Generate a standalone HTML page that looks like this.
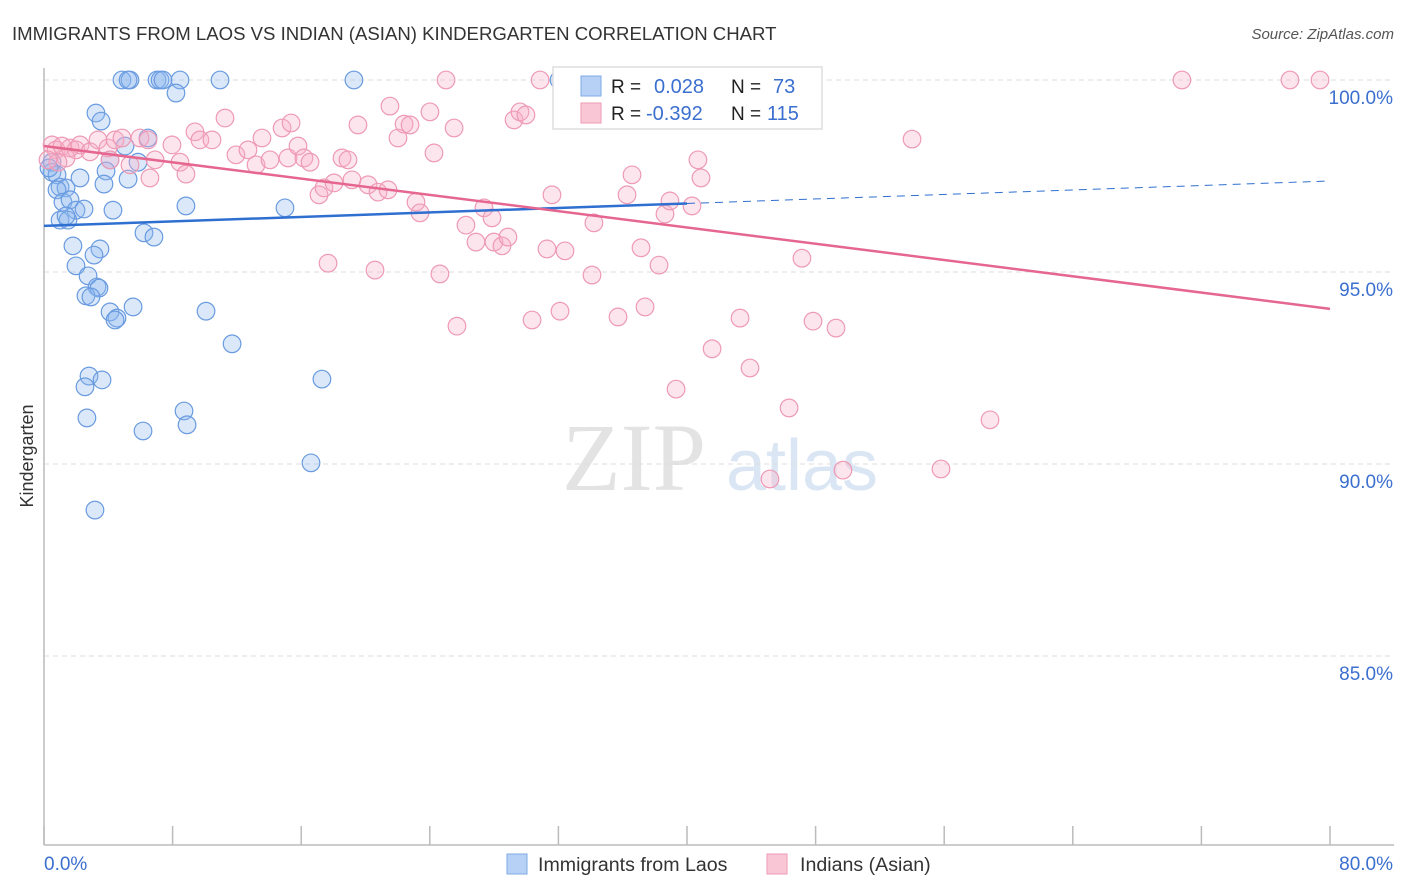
<!DOCTYPE html>
<html><head><meta charset="utf-8"><style>
body{margin:0;background:#fff;font-family:"Liberation Sans",sans-serif;}
#wrap{position:relative;width:1406px;height:892px;overflow:hidden;}
</style></head><body>
<div id="wrap">
<svg id="svg" width="1406" height="892" xmlns="http://www.w3.org/2000/svg">
<text x="12" y="40" font-size="18.6" fill="#333">IMMIGRANTS FROM LAOS VS INDIAN (ASIAN) KINDERGARTEN CORRELATION CHART</text>
<text x="1394" y="39" font-size="15" fill="#555" font-style="italic" text-anchor="end">Source: ZipAtlas.com</text>
<text x="33" y="456" font-size="18" fill="#333" text-anchor="middle" transform="rotate(-90 33 456)">Kindergarten</text>
<g><text x="634" y="490" font-size="96" fill="#e3e3e3" font-family="Liberation Serif" text-anchor="middle">ZIP</text><text x="802" y="490" font-size="72" fill="#dbe6f4" text-anchor="middle">atlas</text></g>
<g id="grid"></g><g id="axes"></g><g id="pts"></g><g id="lines"></g>
<g>
<rect x="553" y="67" width="269" height="62" fill="#fff" stroke="#ddd" stroke-width="1.5"/>
<rect x="581" y="76" width="20" height="20" fill="#b6d1f5" stroke="#7eaae6"/>
<rect x="581" y="103" width="20" height="20" fill="#f9c6d5" stroke="#ee9ab5"/>
<text x="611" y="93" font-size="19" fill="#222">R = </text><text x="654" y="93" font-size="20" fill="#3b6fcf">0.028</text>
<text x="731" y="93" font-size="19" fill="#222">N = </text><text x="773" y="93" font-size="20" fill="#3b6fcf">73</text>
<text x="611" y="120" font-size="19" fill="#222">R = </text><text x="646" y="120" font-size="20" fill="#3b6fcf">-0.392</text>
<text x="731" y="120" font-size="19" fill="#222">N = </text><text x="767" y="120" font-size="20" fill="#3b6fcf">115</text>
</g>
<g>
<rect x="507" y="854" width="20" height="20" fill="#b6d1f5" stroke="#7eaae6"/>
<text x="538" y="871" font-size="19.6" fill="#333">Immigrants from Laos</text>
<rect x="767" y="854" width="20" height="20" fill="#f9c6d5" stroke="#ee9ab5"/>
<text x="800" y="871" font-size="19.6" fill="#333">Indians (Asian)</text>
</g>
</svg></div>
<script>
const blueX=[4.85,5.35,5.23,7.03,7.22,7.40,8.46,10.95,19.28,32.04,8.21,3.23,3.55,6.47,5.04,4.11,5.85,0.50,0.50,0.81,0.31,1.00,1.37,0.81,2.24,3.86,3.73,5.23,1.18,1.62,1.99,2.49,1.00,1.49,1.37,4.29,8.83,14.99,6.22,6.84,1.80,3.48,3.11,1.99,2.74,3.30,3.42,2.61,2.92,4.11,4.54,4.42,5.54,10.08,11.70,2.80,3.61,2.55,17.29,8.71,2.67,8.90,6.16,16.61,3.17];
const blueY=[100,100,100,100,100,100,100,100,100,100,99.66,99.14,98.93,98.49,98.28,97.92,97.86,97.86,97.60,97.53,97.71,97.21,97.19,97.14,97.45,97.63,97.29,97.42,96.82,96.88,96.61,96.64,96.35,96.35,96.46,96.61,96.72,96.67,96.02,95.91,95.68,95.60,95.44,95.16,94.90,94.61,94.58,94.38,94.35,93.96,93.80,93.75,94.09,93.98,93.13,92.29,92.19,92.01,92.21,91.38,91.20,91.02,90.86,90.03,88.80];
const pinkX=[0.50,0.75,1.12,1.62,1.99,1.37,0.87,0.25,2.24,2.86,3.36,3.98,4.42,4.85,5.97,6.47,4.11,5.35,6.59,6.91,7.96,8.46,8.83,9.39,9.70,10.45,11.26,11.94,12.69,13.19,13.56,14.06,14.81,15.18,15.37,15.80,16.17,16.55,17.11,17.42,18.04,18.54,18.91,19.16,19.53,20.16,20.78,21.40,21.52,22.02,22.40,22.77,23.14,23.39,24.01,24.26,24.63,25.01,25.51,25.69,26.25,26.87,27.37,27.87,27.99,28.49,28.86,29.24,29.61,29.98,30.36,30.86,31.29,31.60,32.10,32.41,34.21,34.09,35.71,36.27,36.58,37.14,37.39,38.26,38.63,38.94,39.32,40.31,40.68,40.87,41.56,43.30,43.92,46.35,47.15,47.84,49.27,49.70,54.00,55.80,58.85,45.16,70.79,77.51,79.38,46.84,17.67,20.59];
const pinkY=[98.31,98.18,98.28,98.23,98.18,97.97,97.86,97.92,98.31,98.13,98.44,98.23,98.44,98.49,98.49,98.44,97.92,97.79,97.45,97.92,98.31,97.86,97.55,98.65,98.44,98.44,99.01,98.05,98.18,97.79,98.49,97.92,98.75,97.97,98.88,98.28,97.97,97.86,97.01,97.19,97.32,97.97,97.92,97.40,98.83,97.27,97.08,97.14,99.32,98.49,98.85,98.83,96.82,96.54,99.17,98.10,94.95,100,98.75,93.59,96.22,95.78,96.67,96.41,95.78,95.68,95.91,98.96,99.17,99.09,93.75,100,95.60,97.01,93.98,95.55,96.28,94.92,93.83,97.01,97.53,95.63,94.09,95.18,96.51,96.85,91.95,96.72,97.92,97.45,93.00,93.80,92.50,91.46,95.36,93.72,93.54,89.84,98.46,89.87,91.15,89.61,100,100,100,100,95.23,95.05];
const yTicks=[100,95,90,85];
const yTickLabels=["100.0%","95.0%","90.0%","85.0%"];
const xTicks=[0,8,16,24,32,40,48,56,64,72,80];
const blueTrend=[96.20,97.37];
const pinkTrend=[98.28,94.04];
const blueSolidEnd=40;
const NS="http://www.w3.org/2000/svg";
const sx=v=>44+v*16.075;
const sy=v=>80+(100-v)*38.4;
function mk(tag,attrs,parent){const e=document.createElementNS(NS,tag);for(const k in attrs)e.setAttribute(k,attrs[k]);document.getElementById(parent).appendChild(e);return e;}
yTicks.forEach((t,i)=>{
 const l=mk('line',{x1:44,x2:1394,y1:sy(t),y2:sy(t),stroke:'#ddd','stroke-dasharray':'5,4'},'grid');
 
 
 const tx=mk('text',{x:1393,y:sy(t)+24,'font-size':19,fill:'#3b6fcf','text-anchor':'end'},'grid');
 tx.textContent=yTickLabels[i];
 
 
});
let a=mk('line',{x1:44,x2:44,y1:68,y2:845,stroke:'#bbb','stroke-width':1.5},'axes');


a=mk('line',{x1:44,x2:1394,y1:845,y2:845,stroke:'#bbb','stroke-width':1.5},'axes');


xTicks.forEach(t=>{const l=mk('line',{x1:sx(t),x2:sx(t),y1:826,y2:845,stroke:'#bbb','stroke-width':1.5},'axes');
 
 });
let t0=mk('text',{x:44,y:870,'font-size':19,fill:'#3b6fcf'},'axes');t0.textContent='0.0%';


let t1=mk('text',{x:1393,y:870,'font-size':19,fill:'#3b6fcf','text-anchor':'end'},'axes');t1.textContent='80.0%';


blueX.forEach((x,i)=>{const c=mk('circle',{cx:sx(x),cy:sy(blueY[i]),r:8.8,fill:'rgba(140,185,240,0.32)',stroke:'#6a9be0','stroke-width':1.2},'pts');
 
 });
pinkX.forEach((x,i)=>{const c=mk('circle',{cx:sx(x),cy:sy(pinkY[i]),r:8.8,fill:'rgba(248,175,200,0.32)',stroke:'#ee9ab5','stroke-width':1.2},'pts');
 
 });
const by=x=>blueTrend[0]+(blueTrend[1]-blueTrend[0])*x/80;
let L=mk('line',{x1:sx(0),y1:sy(by(0)),x2:sx(blueSolidEnd),y2:sy(by(blueSolidEnd)),stroke:'#2f6fd0','stroke-width':2.5},'lines');


L=mk('line',{x1:sx(blueSolidEnd),y1:sy(by(blueSolidEnd)),x2:sx(80),y2:sy(by(80)),stroke:'#2f6fd0','stroke-width':1,'stroke-dasharray':'8,6'},'lines');


L=mk('line',{x1:sx(0),y1:sy(pinkTrend[0]),x2:sx(80),y2:sy(pinkTrend[1]),stroke:'#e5668f','stroke-width':2.5},'lines');


</script>
</body></html>
